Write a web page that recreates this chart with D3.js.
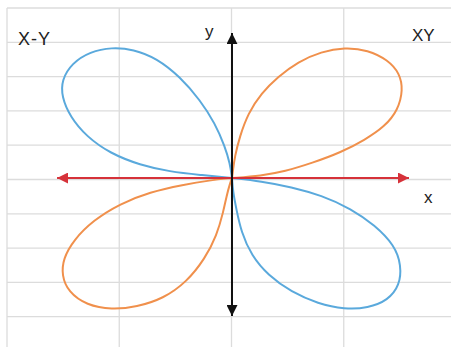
<!DOCTYPE html>
<html>
<head>
<meta charset="utf-8">
<script src="https://cdn.jsdelivr.net/npm/d3@7"></script>
<style>
  body { margin: 0; background: #fff; }
  svg { display: block; }
  text { font-family: "Liberation Sans", Arial, sans-serif; fill: #222; }
</style>
</head>
<body>
<svg id="chart"></svg>
<script>
// lobe points, [x, y], x/y scaled so the lobe tips are about +-1
var lobeXY = [[0,0],[0.006,0.061],[0.016,0.161],[0.045,0.313],[0.094,0.49],[0.171,0.642],[0.269,0.767],
  [0.386,0.881],[0.522,0.957],[0.659,0.99],[0.795,0.97],[0.912,0.894],[0.981,0.793],[1.0,0.667],
  [0.971,0.515],[0.893,0.389],[0.776,0.288],[0.639,0.195],[0.468,0.113],[0.308,0.05],[0.171,0.017],[0,0]];
var lobeNegXY = [[0,0],[-0.012,0.111],[-0.041,0.237],[-0.099,0.414],[-0.187,0.591],[-0.304,0.767],
  [-0.44,0.907],[-0.577,0.975],[-0.703,0.99],[-0.83,0.957],[-0.937,0.869],[-0.996,0.742],[-0.996,0.616],
  [-0.947,0.464],[-0.85,0.313],[-0.713,0.187],[-0.538,0.098],[-0.363,0.048],[-0.187,0.023],[0,0]];
var lobeNegXNegY = [[0,0],[-0.129,-0.017],[-0.285,-0.051],[-0.48,-0.106],[-0.655,-0.195],[-0.811,-0.32],
  [-0.928,-0.472],[-0.987,-0.611],[-0.996,-0.737],[-0.957,-0.864],[-0.85,-0.964],[-0.704,-0.998],
  [-0.557,-0.977],[-0.402,-0.914],[-0.265,-0.788],[-0.158,-0.611],[-0.089,-0.434],[-0.051,-0.258],
  [-0.031,-0.131],[-0.012,-0.043],[0,0]];
var lobeXNegY = [[0,0],[0.171,-0.025],[0.347,-0.068],[0.522,-0.131],[0.698,-0.233],[0.835,-0.358],
  [0.951,-0.51],[0.99,-0.661],[0.981,-0.813],[0.912,-0.927],[0.795,-0.985],[0.659,-0.995],[0.503,-0.952],
  [0.347,-0.864],[0.211,-0.737],[0.113,-0.586],[0.054,-0.409],[0.025,-0.233],[0.006,-0.106],[0,0]];

var seriesNames = ["XY", "X-Y"];
var seriesColors = {"XY": "#f0904c", "X-Y": "#5aa9dc"};
var lobes = [
  {name: "XY", pts: lobeXY},
  {name: "X-Y", pts: lobeNegXY},
  {name: "XY", pts: lobeNegXNegY},
  {name: "X-Y", pts: lobeXNegY}
];

var xArrow = [-1.023, 1.035];
var yArrow = [-1.045, 1.098];

var width = 451, height = 347;

var svg = d3.select("#chart")
  .attr("width", width)
  .attr("height", height);

// spreadsheet cells behind the chart
var cellX = d3.scaleLinear().domain([0, 4]).range([7, 456]);
var cellY = d3.scaleLinear().domain([0, 10]).range([8, 351]);

svg.append("g").selectAll("line.v")
  .data(d3.range(0, 5))
  .enter().append("line")
  .attr("x1", d => cellX(d)).attr("x2", d => cellX(d))
  .attr("y1", cellY(0)).attr("y2", height)
  .attr("stroke", "#dcdcdc").attr("stroke-width", 1.3);

svg.append("g").selectAll("line.h")
  .data(d3.range(0, 11))
  .enter().append("line")
  .attr("x1", cellX(0)).attr("x2", width)
  .attr("y1", d => cellY(d)).attr("y2", d => cellY(d))
  .attr("stroke", "#dcdcdc").attr("stroke-width", 1.3);

// data scales
var x = d3.scaleLinear().domain([-1, 1]).range([61, 403]);
var y = d3.scaleLinear().domain([-1, 1]).range([310, 46]);

var defs = svg.append("defs");
function arrowMarker(id, color) {
  defs.append("marker")
    .attr("id", id)
    .attr("viewBox", "0 0 10 10")
    .attr("refX", 10).attr("refY", 5)
    .attr("markerUnits", "userSpaceOnUse")
    .attr("markerWidth", 11).attr("markerHeight", 11)
    .attr("orient", "auto-start-reverse")
    .append("path")
    .attr("d", "M0,0 L10,5 L0,10 Z")
    .attr("fill", color);
}
arrowMarker("arrRed", "#d6323a");
arrowMarker("arrBlack", "#111");

var line = d3.line()
  .x(d => x(d[0]))
  .y(d => y(d[1]))
  .curve(d3.curveBasis);

svg.append("g").selectAll("path")
  .data(lobes)
  .enter().append("path")
  .attr("d", d => line(d.pts))
  .attr("fill", "none")
  .attr("stroke", d => seriesColors[d.name])
  .attr("stroke-width", 2)
  .attr("stroke-linejoin", "round");

// axes
svg.append("line")
  .attr("x1", x(xArrow[0])).attr("x2", x(xArrow[1]))
  .attr("y1", y(0)).attr("y2", y(0))
  .attr("stroke", "#d6323a").attr("stroke-width", 2)
  .attr("marker-start", "url(#arrRed)")
  .attr("marker-end", "url(#arrRed)");

svg.append("line")
  .attr("x1", x(0)).attr("x2", x(0))
  .attr("y1", y(yArrow[0])).attr("y2", y(yArrow[1]))
  .attr("stroke", "#111").attr("stroke-width", 2)
  .attr("marker-start", "url(#arrBlack)")
  .attr("marker-end", "url(#arrBlack)");

// labels
svg.append("text").attr("x", 18).attr("y", 45)
  .style("font-size", "18px").style("letter-spacing", "1px").text(seriesNames[1]);
svg.append("text").attr("x", 412).attr("y", 41)
  .style("font-size", "17px").text(seriesNames[0]);
svg.append("text").attr("x", 205).attr("y", 37)
  .style("font-size", "17px").text("y");
svg.append("text").attr("x", 424).attr("y", 203)
  .style("font-size", "17px").text("x");
</script>
</body>
</html>
